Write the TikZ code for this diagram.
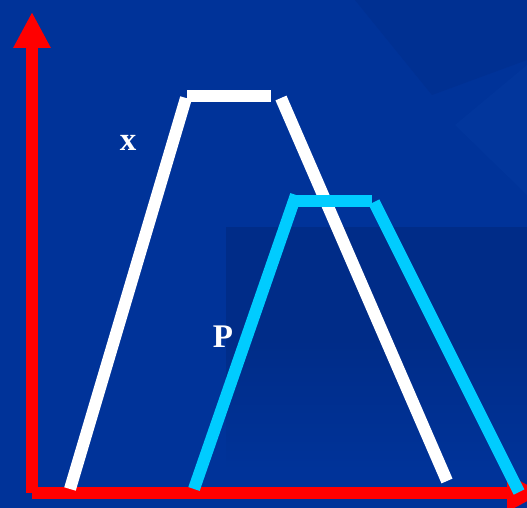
\documentclass[tikz,border=0pt]{standalone}
\usepackage{fontspec}
\setmainfont{Liberation Serif}
\usetikzlibrary{arrows.meta}

\definecolor{bgblue}{HTML}{003399}
\definecolor{bgdark}{HTML}{002C88}
\definecolor{bglight}{HTML}{02369C}
\definecolor{axisred}{HTML}{FF0000}
\definecolor{pcyan}{HTML}{00CCFF}

\begin{document}
\begin{tikzpicture}[x=1pt, y=-1pt,
    axis/.style={draw=axisred, line width=12pt,
      -{Triangle[length=36pt, width=35pt]}},
    curvex/.style={draw=white, line width=12pt},
    curvep/.style={draw=pcyan, line width=12pt},
    lbl/.style={text=white, font=\bfseries\fontsize{33}{33}\selectfont, inner sep=0pt}
  ]
  % background
  \fill[bgblue] (0,0) rectangle (527,508);
  \useasboundingbox (0,0) rectangle (527,508);
  \fill[bgdark!40!bgblue] (355,0) -- (527,0) -- (527,60) -- (432,95) -- cycle;
  \fill[bglight] (527,65) -- (455,125) -- (527,195) -- cycle;
  \fill[bgdark] (226,227) rectangle (527,340);
  \shade[top color=bgdark, bottom color=bgblue] (226,339) rectangle (527,470);

  % axes
  \coordinate (o)  at (32,493);
  \coordinate (yt) at (32,12);
  \coordinate (xt) at (543,493);
  \draw[axis] (o) -- (yt);
  \draw[axis] (o) -- (xt);

  % white trapezoid (x)
  \coordinate (x1) at (70,489);
  \coordinate (x2) at (186,98);
  \coordinate (x3) at (187,96.5);
  \coordinate (x4) at (271,96.5);
  \coordinate (x5) at (281,98);
  \coordinate (x6) at (447,481);
  \draw[curvex] (x1) -- (x2);
  \draw[curvex] (x3) -- (x4);
  \draw[curvex] (x5) -- (x6);

  % cyan trapezoid (P)
  \coordinate (p1) at (194,489);
  \coordinate (p2) at (296,195);
  \coordinate (p3) at (294,200.5);
  \coordinate (p4) at (372,200.5);
  \coordinate (p5) at (374,202);
  \coordinate (p6) at (519,492);
  \draw[curvep] (p1) -- (p2);
  \draw[curvep] (p3) -- (p4);
  \draw[curvep] (p5) -- (p6);

  % labels
  \node[lbl] (lx) at (128,143) {x};
  \node[lbl] (lp) at (223,337) {P};
\end{tikzpicture}
\end{document}
